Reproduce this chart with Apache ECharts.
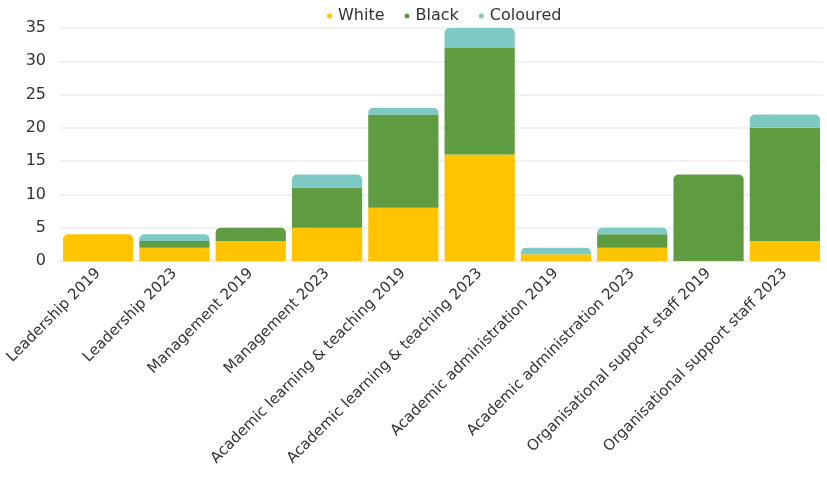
<!DOCTYPE html>
<html>
<head>
<meta charset="utf-8">
<script src="https://cdn.jsdelivr.net/npm/echarts@6/dist/echarts.min.js"></script>
<style>
  html, body { margin: 0; padding: 0; background: #fff; }
  #chart { width: 827px; height: 488px; }
</style>
</head>
<body>
<div id="chart"></div>
<script>
const categories = [
  'Leadership 2019', 'Leadership 2023', 'Management 2019', 'Management 2023',
  'Academic learning & teaching 2019', 'Academic learning & teaching 2023',
  'Academic administration 2019', 'Academic administration 2023',
  'Organisational support staff 2019', 'Organisational support staff 2023'
];
const seriesNames = ['White', 'Black', 'Coloured'];
const white = [4, 2, 3, 5, 8, 16, 1, 2, 0, 3];
const black = [0, 1, 2, 6, 14, 16, 0, 2, 13, 17];
const coloured = [0, 1, 0, 2, 1, 3, 1, 1, 0, 2];
const colors = ['#FFC300', '#5F9B40', '#7DC9C4'];

const allValues = [white, black, coloured];

// round the top corners of whichever segment sits on top of each stack
function buildData(si) {
  return allValues[si].map(function (v, ci) {
    let top = -1;
    for (let k = 0; k < allValues.length; k++) {
      if (allValues[k][ci] > 0) top = k;
    }
    if (top === si) {
      return { value: v, itemStyle: { borderRadius: [5, 5, 0, 0] } };
    }
    return v;
  });
}

const myChart = echarts.init(document.getElementById('chart'));

const option = {
  animation: false,
  color: colors,
  textStyle: { fontFamily: '"DejaVu Sans", sans-serif' },
  legend: {
    top: 3,
    left: 322,
    icon: 'circle',
    itemWidth: 5,
    itemHeight: 5,
    itemGap: 20,
    textStyle: { fontSize: 16, color: '#333', padding: [0, 0, 0, 1] },
    data: seriesNames
  },
  grid: {
    left: 60,
    right: 4,
    top: 28,
    bottom: 227,
    containLabel: false
  },
  xAxis: {
    type: 'category',
    data: categories,
    axisLine: { show: true, lineStyle: { color: '#e6e6e6' } },
    axisTick: { show: false },
    axisLabel: {
      interval: 0,
      rotate: 45,
      fontSize: 15,
      color: '#333',
      margin: 10
    }
  },
  yAxis: {
    type: 'value',
    min: 0,
    max: 35,
    interval: 5,
    axisLine: { show: false },
    axisTick: { show: false },
    axisLabel: { fontSize: 16, color: '#333', margin: 14 },
    splitLine: { lineStyle: { color: '#ececec', width: 1.5 } }
  },
  series: seriesNames.map(function (name, si) {
    return {
      name: name,
      type: 'bar',
      stack: 'total',
      barCategoryGap: '8%',
      data: buildData(si)
    };
  })
};

option && myChart.setOption(option);
</script>
</body>
</html>
